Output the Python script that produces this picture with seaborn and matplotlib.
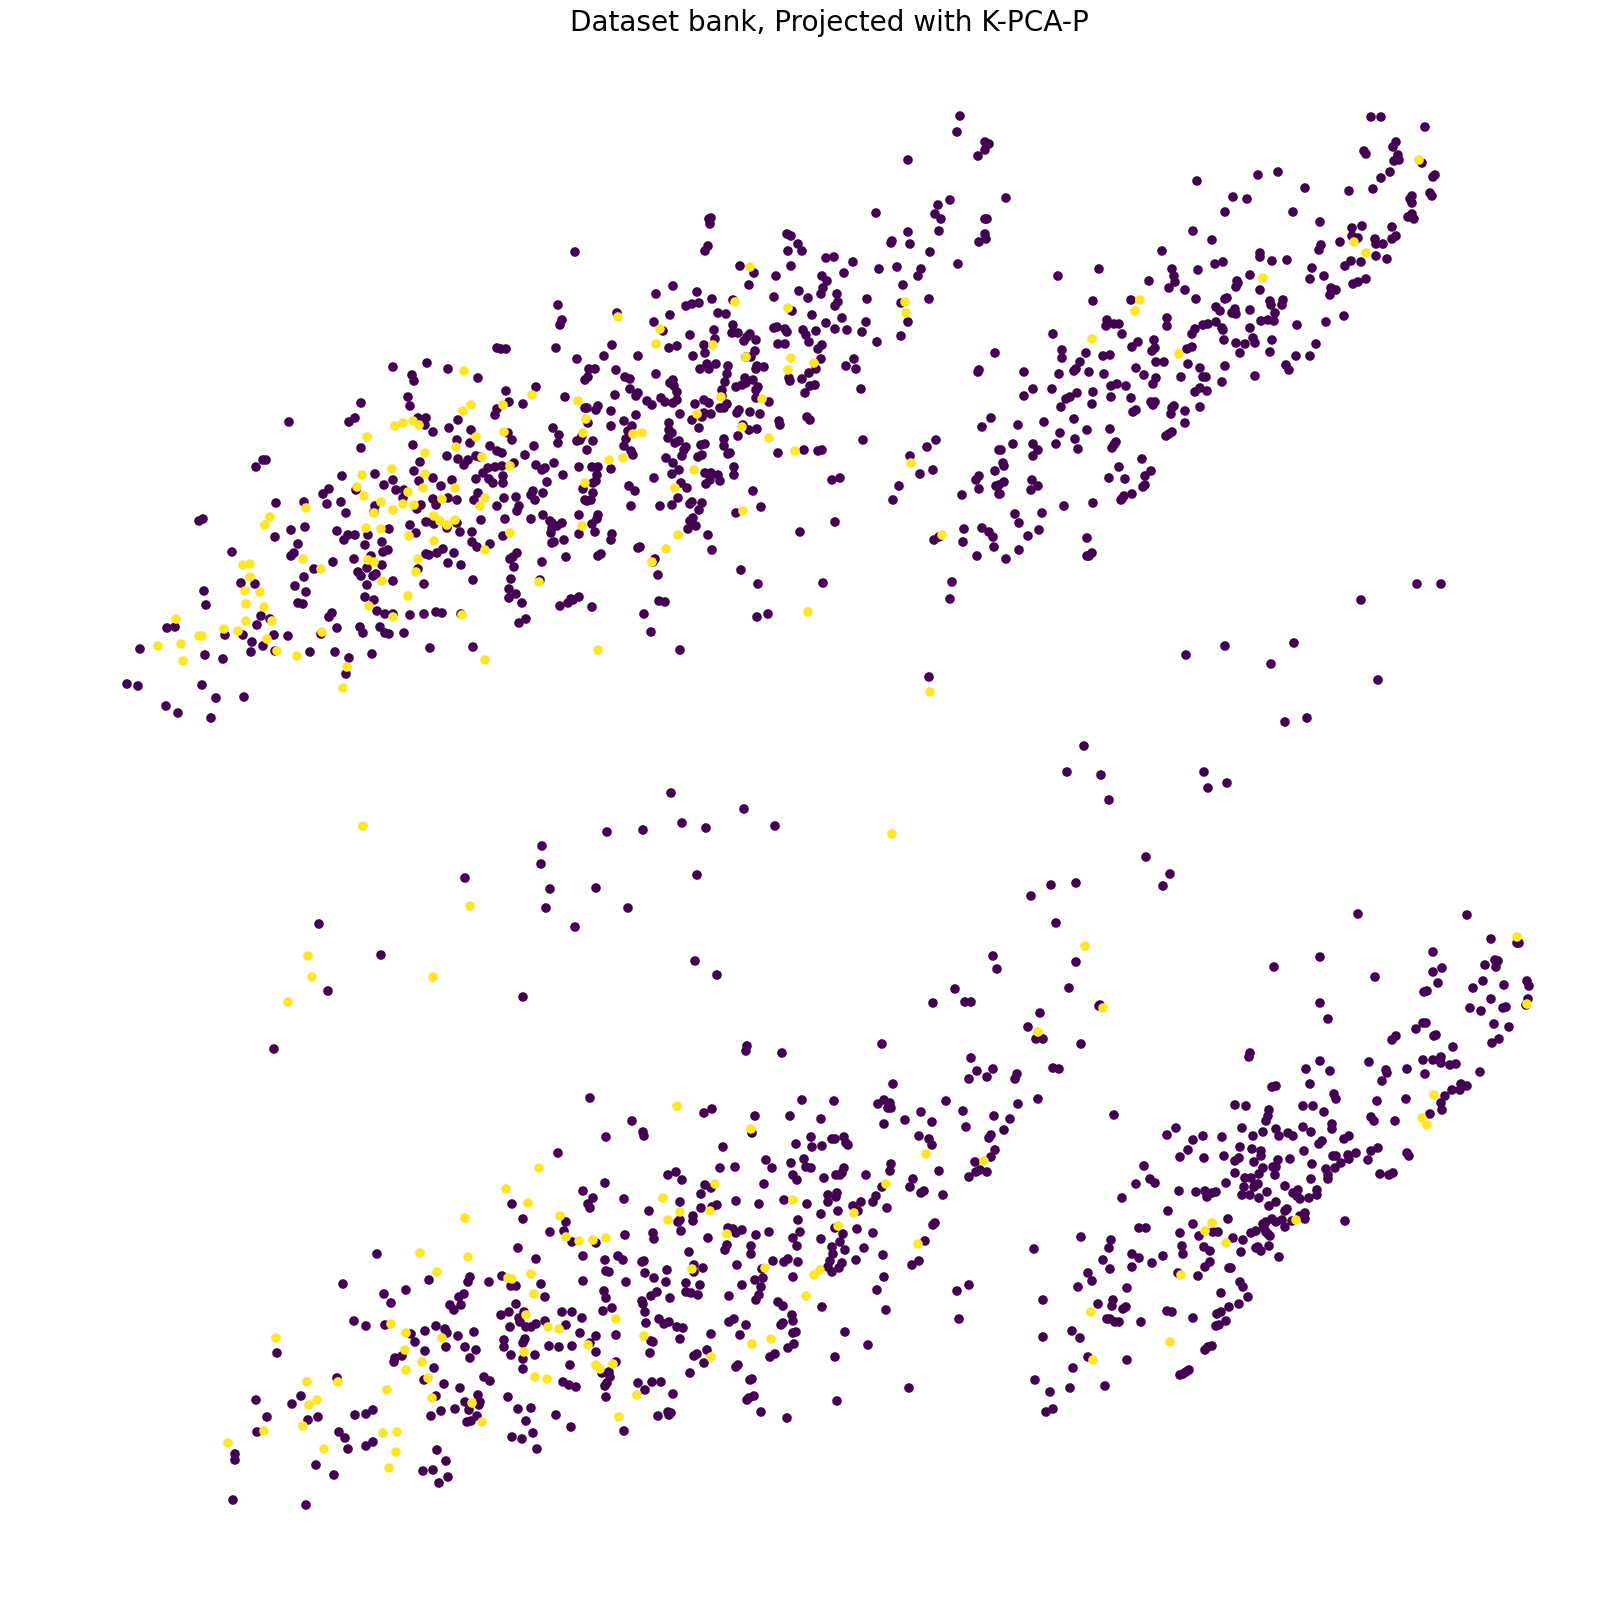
import pandas as pd
import matplotlib
matplotlib.use('Agg')
import matplotlib.pyplot as plt
import seaborn as sns

# values, grouped by cluster and label
upper_left_dark = [(497,348),(393,367),(427,363),(448,369),(478,378),(412,375),(414,381),(408,397),(410,406),(361,403),(355,418),(349,422),(289,422),(418,418),(426,418),(425,425),(433,432),(458,420),(449,428),(471,430),(457,440),(470,443),(495,415),(497,409),(413,445),(361,448),(490,446),(497,451),(447,456),(458,459),(476,456),(480,457),(468,460),(464,465),(420,462),(256,467),(263,460),(266,460),(414,471),(342,476),(375,474),(393,480),(419,481),(433,478),(452,480),(441,486),(384,485),(396,490),(404,490),(403,498),(356,490),(329,489),(323,494),(327,504),(341,502),(304,502),(276,503),(346,513),(375,506),(374,512),(417,509),(421,505),(433,499),(436,505),(448,498),(457,500),(474,500),(478,493),(476,479),(483,473),(489,479),(493,483),(488,468),(495,467),(497,506),(203,519),(199,521),(426,522),(432,522),(434,524),(410,525),(457,523),(447,528),(481,520),(389,529),(416,533),(460,532),(472,532),(305,527),(291,530),(275,537),(337,531),(348,535),(355,535),(344,540),(368,535),(365,545),(382,542),(298,544),(472,542),(477,547),(490,544),(443,549),(437,553),(429,555),(426,554),(454,553),(383,552),(388,550),(232,552),(294,553),(291,556),(371,556),(354,559),(333,562),(448,563),(461,565),(382,565),(314,569),(367,568),(358,572),(361,576),(376,574),(373,576),(418,569),(304,577),(393,581),(424,584),(473,580),(241,583),(255,584),(295,586),(367,585),(204,591),(306,592),(365,597),(374,600),(206,605),(298,603),(303,604),(377,611),(385,614),(393,614),(410,615),(424,614),(436,612),(442,613),(461,614),(332,613),(329,617),(261,616),(270,619),(257,625),(167,628),(175,627),(337,628),(360,627),(363,633),(380,627),(385,633),(389,634),(404,633),(225,635),(243,635),(274,635),(288,636),(321,634),(252,642),(263,646),(140,649),(430,648),(473,647),(251,652),(275,651),(310,652),(335,652),(372,654),(205,655),(223,659),(349,658),(346,674),(127,684),(138,686),(202,685),(216,698),(244,697),(166,706),(178,713),(211,718)]
upper_left_yellow = [(464,371),(471,405),(463,411),(403,423),(395,426),(413,421),(419,425),(367,437),(476,437),(456,447),(425,453),(482,457),(392,469),(362,475),(425,474),(357,487),(364,496),(423,488),(455,488),(408,492),(485,498),(381,502),(403,504),(414,505),(442,499),(480,506),(306,508),(393,510),(270,517),(374,513),(434,516),(440,521),(455,520),(447,525),(265,525),(366,528),(381,529),(409,536),(434,541),(485,550),(250,564),(243,565),(303,559),(418,559),(368,560),(374,562),(321,569),(416,572),(250,577),(382,581),(245,591),(260,592),(408,596),(246,604),(264,607),(369,606),(176,619),(246,621),(272,621),(393,617),(462,615),(224,629),(238,631),(322,632),(199,636),(202,636),(181,644),(158,646),(267,639),(277,651),(297,656),(183,661),(485,660),(347,667),(343,688)]

upper_mid_dark = [(960,116),(957,132),(985,142),(989,144),(985,150),(978,156),(908,160),(876,213),(950,200),(938,205),(935,214),(941,219),(985,219),(987,219),(939,231),(985,234),(986,239),(979,242),(891,243),(892,241),(908,232),(910,244),(930,252),(958,264),(711,218),(709,219),(710,224),(708,246),(705,251),(575,252),(787,234),(791,236),(798,244),(788,251),(802,251),(826,258),(834,257),(853,262),(791,266),(740,266),(754,273),(776,276),(879,269),(897,267),(921,269),(918,276),(844,273),(822,276),(827,281),(823,288),(821,294),(749,285),(903,285),(673,286),(656,294),(697,292),(799,291),(837,294),(774,297),(808,298),(929,299),(867,299),(838,302),(835,306),(712,299),(733,300),(558,305),(686,306),(692,304),(699,303),(901,303),(792,311),(812,315),(617,313),(670,315),(718,313),(726,314),(842,318),(908,322),(826,323),(866,322),(562,320),(560,325),(654,322),(733,325),(714,330),(774,328),(777,327),(785,329),(787,332),(835,329),(847,330),(862,332),(803,330),(806,335),(816,331),(663,331),(690,335),(732,333),(738,333),(750,334),(747,337),(744,341),(756,340),(715,339),(901,336),(877,342),(809,342),(778,344),(785,344),(822,345),(818,349),(612,345),(704,345),(669,348),(677,346),(506,349),(501,349),(556,348),(705,353),(755,351),(693,356),(638,356),(604,356),(746,357),(751,357),(854,359),(821,359),(577,359),(995,353),(707,364),(716,364),(728,366),(757,366),(764,367),(700,369),(709,369),(756,369),(846,366),(856,369),(816,369),(979,370),(978,372),(589,369),(595,369),(616,370),(727,374),(809,373),(656,374),(625,377),(630,379),(588,377),(585,380),(789,378),(790,381),(802,379),(745,378),(673,380),(670,383),(725,382),(753,380),(746,383),(674,386),(810,386),(815,385),(742,385),(736,387),(758,387),(756,390),(536,387),(506,391),(630,389),(722,390),(861,389),(805,393),(677,392),(615,395),(638,393),(636,396),(565,397),(722,396),(661,398),(756,398),(647,401),(677,400),(665,402),(673,403),(704,400),(709,403),(695,404),(727,404),(769,402),(509,402),(523,404),(652,405),(598,406),(724,408),(720,408),(587,408),(585,408),(596,410),(611,411),(739,410),(737,413),(750,412),(760,414),(680,414),(636,415),(704,413),(711,414),(702,417),(807,417),(810,420),(991,418),(982,427),(779,421),(780,425),(588,423),(624,421),(692,420),(669,423),(611,426),(632,426),(743,425),(757,429),(749,430),(699,428),(553,428),(669,430),(628,431),(559,435),(672,433),(738,436),(508,433),(582,436),(668,438),(512,440),(626,439),(724,439),(580,440),(577,441),(593,441),(558,443),(863,440),(679,441),(675,443),(936,440),(624,446),(701,445),(705,444),(724,446),(686,447),(534,446),(927,447),(684,450),(587,450),(804,450),(818,451),(822,450),(631,451),(633,455),(728,454),(730,453),(778,453),(502,453),(525,455),(702,455),(698,457),(682,456),(666,458),(910,456),(999,450),(514,463),(554,463),(536,465),(673,463),(545,468),(542,470),(579,467),(592,467),(598,467),(502,466),(611,469),(933,470),(734,467),(679,470),(995,471),(672,474),(563,475),(597,475),(705,473),(711,473),(718,475),(734,475),(920,474),(979,476),(976,480),(832,480),(840,478),(654,478),(503,476),(503,483),(547,482),(593,483),(596,481),(710,480),(720,481),(706,484),(681,483),(899,486),(996,486),(999,485),(583,489),(629,486),(687,488),(635,491),(979,489),(533,491),(543,493),(593,493),(753,491),(531,495),(504,498),(516,497),(962,495),(999,494),(678,498),(535,500),(591,500),(585,500),(587,501),(893,500),(692,502),(690,504),(702,503),(519,506),(631,506),(660,506),(672,505),(761,507),(699,510),(517,511),(736,513),(579,515),(543,515),(598,515),(505,519),(531,519),(597,519),(550,521),(552,523),(693,518),(690,521),(835,522),(592,524),(562,523),(557,526),(696,526),(552,528),(688,529),(964,529),(982,528),(989,532),(595,532),(800,532),(551,533),(579,534),(612,534),(708,535),(503,536),(993,537),(939,537),(934,540),(611,540),(564,540),(963,542),(554,542),(552,543),(994,547),(640,547),(638,548),(712,550),(517,553),(601,554),(598,556),(566,557),(513,557),(510,559),(977,556),(655,559),(653,562),(542,562),(514,567),(741,570),(658,575),(511,579),(540,580),(758,584),(823,583),(952,582),(509,589),(516,594),(579,597),(509,598),(573,600),(571,599),(568,603),(560,606),(950,599),(659,601),(665,602),(522,603),(592,607),(644,614),(768,614),(757,617),(526,619),(519,623),(651,632),(680,650),(929,677)]
upper_mid_yellow = [(750,267),(735,302),(788,308),(905,302),(906,313),(618,317),(660,329),(656,344),(713,345),(791,358),(746,357),(814,363),(788,370),(532,395),(578,401),(721,397),(762,399),(503,405),(586,419),(697,414),(504,432),(583,433),(742,427),(633,434),(642,433),(769,438),(795,451),(609,460),(623,458),(510,466),(694,470),(585,483),(675,488),(911,463),(743,511),(582,526),(510,533),(942,535),(678,535),(666,549),(652,562),(539,582),(808,612),(598,650),(930,692)]

upper_right_dark = [(1006,198),(1197,181),(1258,175),(1278,172),(1371,117),(1381,117),(1425,127),(1396,142),(1393,147),(1364,151),(1366,154),(1398,155),(1399,160),(1394,161),(1422,163),(1390,172),(1381,178),(1435,175),(1433,177),(1373,189),(1349,191),(1305,188),(1233,197),(1247,199),(1430,193),(1432,196),(1412,196),(1410,199),(1412,203),(1225,212),(1293,212),(1412,214),(1408,217),(1414,219),(1320,222),(1362,226),(1352,228),(1392,227),(1193,231),(1396,236),(1392,239),(1352,236),(1358,238),(1355,240),(1375,239),(1376,244),(1383,244),(1212,240),(1340,242),(1321,245),(1319,250),(1162,251),(1260,253),(1260,257),(1376,256),(1387,259),(1272,261),(1287,260),(1223,262),(1215,264),(1351,261),(1361,262),(1345,266),(1312,268),(1099,269),(1172,269),(1198,270),(1058,276),(1174,276),(1250,275),(1324,276),(1310,279),(1366,279),(1237,281),(1149,281),(1175,282),(1238,283),(1358,282),(1353,284),(1169,288),(1236,287),(1185,290),(1260,290),(1331,288),(1336,290),(1330,295),(1196,299),(1227,298),(1225,299),(1093,301),(1131,300),(1270,301),(1283,300),(1271,305),(1282,305),(1216,307),(1220,311),(1235,309),(1250,310),(1232,313),(1236,314),(1275,313),(1344,316),(1167,318),(1107,320),(1114,324),(1119,324),(1106,326),(1167,326),(1216,322),(1208,324),(1203,325),(1261,321),(1268,320),(1274,321),(1326,322),(1297,325),(1195,329),(1222,328),(1223,330),(1250,328),(1053,334),(1122,334),(1192,334),(1154,340),(1224,340),(1253,338),(1272,340),(1138,342),(1132,347),(1255,343),(1236,343),(1245,344),(1316,344),(1192,347),(1187,349),(1155,348),(1152,351),(1062,350),(1086,353),(1270,352),(1240,353),(1103,356),(1110,355),(1062,358),(1296,356),(1310,356),(1080,362),(1156,362),(1164,362),(1188,364),(1225,366),(1200,368),(1286,365),(1136,368),(1289,370),(1076,369),(1074,371),(1024,372),(1059,374),(1089,372),(1104,374),(1144,375),(1255,376),(1156,378),(1181,377),(1203,377),(1206,377),(1222,382),(1153,384),(1117,384),(1111,386),(1126,386),(1033,389),(1052,389),(1200,388),(1207,391),(1195,392),(1077,393),(1093,392),(1024,396),(1111,397),(1070,397),(1066,399),(1131,398),(1151,402),(1155,402),(1153,405),(1092,404),(1061,407),(1174,406),(1172,408),(1200,407),(1136,410),(1133,412),(1185,411),(1171,414),(1074,419),(1044,422),(1018,425),(1185,423),(1060,433),(1087,430),(1110,429),(1172,432),(1169,434),(1166,436),(1075,439),(1013,444),(1033,444),(1056,444),(1116,442),(1114,445),(1112,448),(1001,450),(1038,450),(1078,449),(1033,456),(1142,459),(1003,463),(1004,466),(1119,467),(1151,471),(1145,476),(1109,478),(1125,479),(1032,480),(1004,482),(1145,485),(1143,487),(1038,486),(1031,490),(1000,494),(1132,494),(1124,496),(1122,499),(1121,500),(1093,503),(1064,506),(1042,513),(1015,514),(1019,523),(1039,530),(1028,536),(1087,538),(1019,550),(1006,559),(1092,553),(1087,556),(1089,556)]
upper_right_yellow = [(1419,160),(1354,242),(1366,253),(1263,278),(1140,300),(1135,311),(1092,339),(1179,354)]

middle_dark = [(1417,584),(1441,584),(1361,600),(1294,643),(1225,646),(1186,655),(1271,664),(1378,680),(1285,722),(1307,718),(1084,746),(1067,772),(1101,775),(1109,800),(1204,772),(1208,788),(1227,783),(1146,857),(1170,874),(1163,886),(1031,896),(1051,885),(1076,883),(607,832),(643,830),(542,846),(541,864),(465,878),(550,889),(596,888),(546,908),(628,908),(575,927),(319,924),(381,955),(328,991),(523,997),(274,1049),(590,1098),(671,793),(682,823),(706,828),(744,809),(775,826),(697,875),(695,961),(717,975),(993,956),(997,969),(955,989),(933,1003),(965,1002),(971,1002)]
middle_yellow = [(363,826),(470,906),(308,956),(312,977),(433,977),(288,1002),(892,834)]

lower_left_dark = [(632,1121),(606,1137),(558,1153),(605,1183),(583,1191),(593,1198),(624,1199),(512,1204),(588,1204),(590,1208),(523,1219),(566,1222),(564,1231),(550,1232),(625,1235),(572,1242),(596,1243),(518,1248),(583,1256),(536,1259),(618,1256),(623,1260),(605,1260),(377,1254),(606,1271),(609,1272),(583,1281),(626,1282),(429,1280),(470,1277),(468,1282),(502,1276),(489,1282),(511,1286),(516,1286),(541,1284),(343,1284),(406,1290),(384,1294),(545,1297),(604,1291),(606,1298),(391,1303),(464,1294),(459,1297),(461,1305),(450,1305),(454,1310),(516,1304),(524,1312),(612,1308),(603,1311),(509,1312),(501,1315),(562,1312),(572,1312),(582,1318),(519,1318),(520,1322),(354,1321),(366,1326),(385,1325),(545,1321),(536,1324),(531,1327),(526,1327),(510,1327),(566,1325),(436,1326),(445,1329),(447,1333),(425,1331),(411,1334),(474,1332),(580,1333),(458,1336),(596,1336),(616,1335),(415,1342),(504,1340),(525,1339),(523,1343),(590,1343),(549,1346),(559,1347),(572,1346),(446,1347),(465,1347),(504,1347),(476,1350),(425,1351),(596,1352),(277,1353),(402,1356),(395,1358),(394,1362),(511,1355),(535,1355),(523,1359),(470,1358),(616,1362),(570,1365),(434,1368),(523,1369),(602,1373),(609,1372),(610,1377),(484,1377),(490,1381),(337,1378),(424,1380),(444,1384),(563,1382),(569,1385),(576,1387),(607,1383),(605,1386),(638,1383),(460,1388),(478,1395),(301,1396),(436,1396),(508,1397),(606,1397),(256,1400),(292,1404),(465,1402),(480,1402),(479,1405),(518,1409),(531,1408),(373,1410),(455,1409),(469,1410),(441,1411),(267,1417),(366,1414),(355,1415),(318,1417),(431,1416),(477,1416),(556,1415),(308,1420),(471,1421),(467,1422),(526,1421),(571,1427),(257,1432),(339,1432),(533,1433),(624,1431),(345,1438),(512,1437),(522,1439),(373,1442),(366,1446),(348,1449),(537,1449),(437,1450),(235,1454),(235,1460),(446,1461),(316,1465),(433,1470),(423,1471),(334,1475),(448,1477),(439,1483),(233,1500),(306,1505)]
lower_left_yellow = [(539,1168),(506,1189),(528,1203),(465,1218),(560,1216),(566,1237),(579,1241),(593,1240),(606,1238),(420,1253),(468,1257),(437,1272),(531,1274),(508,1278),(512,1279),(534,1294),(526,1315),(616,1319),(391,1324),(548,1327),(559,1329),(406,1333),(442,1338),(276,1338),(588,1345),(405,1350),(524,1352),(422,1362),(596,1365),(613,1364),(600,1369),(406,1370),(535,1377),(547,1379),(428,1378),(307,1382),(338,1382),(387,1390),(317,1400),(637,1395),(432,1398),(309,1405),(472,1403),(482,1422),(303,1426),(264,1431),(397,1432),(383,1433),(228,1443),(324,1449),(396,1452),(389,1468),(619,1417)]

lower_mid_dark = [(882,1044),(782,1053),(747,1046),(746,1051),(1028,1027),(971,1058),(977,1071),(993,1069),(987,1077),(969,1079),(1017,1074),(1015,1079),(893,1084),(946,1101),(963,1111),(1018,1104),(802,1100),(834,1101),(878,1104),(884,1100),(890,1103),(888,1108),(891,1108),(921,1112),(905,1120),(932,1122),(994,1116),(1010,1119),(821,1119),(790,1116),(755,1116),(884,1124),(712,1109),(704,1113),(966,1127),(1004,1130),(752,1133),(643,1132),(644,1136),(919,1136),(929,1139),(932,1145),(991,1135),(989,1138),(811,1137),(812,1147),(832,1139),(835,1139),(844,1137),(846,1143),(848,1145),(796,1144),(822,1146),(723,1147),(995,1150),(991,1157),(766,1160),(804,1159),(791,1163),(806,1167),(811,1168),(975,1162),(891,1164),(735,1167),(720,1168),(772,1168),(844,1168),(890,1171),(939,1171),(980,1170),(976,1172),(987,1172),(969,1177),(676,1172),(668,1175),(793,1175),(682,1180),(797,1180),(824,1178),(842,1173),(836,1175),(840,1175),(866,1175),(913,1179),(764,1184),(705,1185),(711,1188),(910,1187),(882,1187),(924,1191),(921,1193),(943,1195),(701,1194),(876,1196),(837,1193),(828,1195),(836,1197),(828,1202),(861,1202),(873,1202),(680,1202),(736,1201),(717,1205),(712,1207),(759,1204),(784,1200),(807,1204),(853,1206),(701,1208),(649,1211),(887,1208),(856,1211),(858,1211),(838,1211),(821,1214),(693,1216),(680,1220),(693,1221),(678,1222),(798,1220),(933,1225),(935,1223),(835,1228),(857,1229),(728,1228),(733,1229),(742,1230),(736,1233),(681,1231),(653,1233),(769,1232),(800,1232),(843,1234),(873,1233),(756,1235),(708,1238),(654,1239),(793,1238),(821,1239),(925,1241),(840,1242),(727,1245),(751,1246),(797,1246),(725,1250),(832,1247),(864,1248),(845,1250),(689,1252),(751,1254),(833,1254),(883,1255),(856,1260),(773,1261),(788,1259),(784,1262),(798,1262),(830,1261),(919,1261),(644,1261),(642,1262),(842,1263),(694,1265),(703,1268),(737,1265),(667,1270),(912,1265),(839,1268),(828,1267),(762,1269),(694,1272),(645,1273),(832,1272),(884,1277),(654,1278),(763,1278),(793,1277),(755,1280),(666,1282),(686,1283),(742,1285),(700,1285),(969,1285),(761,1287),(957,1291),(877,1290),(657,1292),(686,1292),(691,1293),(698,1295),(651,1296),(729,1296),(670,1298),(759,1295),(756,1300),(642,1301),(778,1302),(783,1306),(643,1304),(822,1307),(886,1310),(645,1312),(792,1315),(793,1321),(959,1319),(659,1319),(734,1319),(729,1322),(646,1323),(669,1322),(664,1324),(746,1325),(783,1323),(781,1325),(677,1327),(683,1328),(845,1332),(796,1332),(793,1333),(711,1334),(740,1335),(680,1339),(651,1341),(653,1342),(794,1344),(868,1345),(788,1348),(707,1350),(650,1353),(697,1354),(694,1356),(775,1354),(770,1357),(835,1357),(704,1363),(738,1365),(736,1367),(690,1373),(752,1379),(750,1380),(652,1382),(661,1382),(909,1388),(645,1390),(673,1394),(754,1396),(749,1398),(747,1400),(837,1401),(668,1412),(671,1413),(669,1415),(761,1412),(658,1416),(787,1418)]
lower_mid_yellow = [(677,1106),(751,1129),(926,1154),(984,1161),(886,1184),(715,1184),(663,1198),(793,1200),(680,1212),(710,1211),(668,1220),(854,1213),(838,1226),(727,1234),(918,1244),(765,1268),(692,1269),(820,1270),(814,1275),(806,1296),(644,1336),(752,1344),(771,1339),(711,1357)]

lower_right_dark = [(1358,914),(1467,915),(1056,923),(1491,939),(1517,943),(1519,943),(1433,952),(1320,957),(1495,960),(1498,961),(1485,965),(1496,967),(1076,962),(1274,967),(1442,968),(1433,972),(1375,977),(1527,981),(1529,986),(1483,981),(1504,985),(1438,983),(1473,988),(1069,988),(1424,992),(1427,991),(1491,999),(1528,999),(1526,1005),(1320,1003),(1470,1008),(1481,1011),(1506,1007),(1503,1008),(1099,1006),(1100,1005),(1040,1013),(1328,1019),(1494,1024),(1509,1027),(1423,1023),(1426,1023),(1416,1029),(1396,1036),(1392,1040),(1434,1036),(1436,1035),(1499,1039),(1492,1043),(1036,1039),(1043,1039),(1081,1044),(1453,1047),(1250,1053),(1249,1057),(1320,1061),(1369,1062),(1423,1060),(1433,1060),(1441,1057),(1441,1063),(1456,1064),(1450,1065),(1407,1069),(1386,1070),(1387,1073),(1306,1069),(1330,1071),(1053,1068),(1059,1069),(1480,1072),(1425,1074),(1382,1081),(1310,1084),(1276,1086),(1272,1087),(1461,1084),(1467,1086),(1452,1090),(1460,1090),(1445,1096),(1334,1094),(1336,1099),(1038,1099),(1377,1101),(1406,1099),(1441,1103),(1235,1105),(1246,1106),(1303,1106),(1313,1106),(1442,1110),(1269,1110),(1324,1112),(1430,1114),(1114,1115),(1371,1117),(1374,1121),(1268,1116),(1266,1121),(1395,1121),(1332,1124),(1332,1129),(1242,1128),(1276,1129),(1303,1127),(1311,1132),(1176,1128),(1263,1132),(1288,1133),(1293,1136),(1253,1136),(1279,1136),(1167,1135),(1203,1136),(1222,1137),(1349,1136),(1344,1139),(1193,1140),(1322,1141),(1319,1144),(1240,1147),(1188,1150),(1252,1149),(1261,1151),(1261,1156),(1304,1151),(1378,1148),(1371,1151),(1407,1153),(1409,1156),(1180,1157),(1204,1158),(1224,1156),(1239,1158),(1235,1161),(1254,1162),(1278,1160),(1290,1159),(1336,1156),(1333,1156),(1348,1155),(1356,1153),(1349,1159),(1368,1160),(1312,1164),(1341,1163),(1144,1166),(1263,1168),(1276,1167),(1273,1167),(1335,1168),(1326,1169),(1235,1173),(1259,1174),(1275,1175),(1380,1174),(1389,1175),(1393,1173),(1328,1175),(1328,1179),(1245,1178),(1251,1178),(1150,1179),(1311,1179),(1155,1183),(1136,1184),(1226,1183),(1258,1184),(1255,1185),(1285,1186),(1244,1187),(1254,1187),(1179,1191),(1196,1192),(1205,1191),(1216,1192),(1212,1193),(1207,1197),(1267,1192),(1298,1190),(1317,1190),(1293,1193),(1242,1195),(1250,1195),(1317,1195),(1297,1196),(1259,1198),(1300,1199),(1309,1198),(1122,1198),(1276,1202),(1269,1206),(1287,1209),(1285,1211),(1168,1211),(1305,1213),(1300,1216),(1228,1219),(1272,1219),(1282,1220),(1276,1222),(1266,1222),(1263,1224),(1305,1219),(1292,1221),(1345,1221),(1193,1224),(1285,1227),(1139,1228),(1146,1228),(1264,1228),(1256,1231),(1251,1233),(1266,1232),(1268,1234),(1213,1232),(1218,1232),(1180,1233),(1199,1236),(1270,1236),(1233,1238),(1081,1237),(1111,1240),(1243,1240),(1182,1246),(1269,1246),(1109,1248),(1204,1247),(1258,1247),(1034,1249),(1210,1251),(1261,1251),(1256,1248),(1241,1252),(1183,1254),(1132,1254),(1139,1258),(1163,1256),(1279,1257),(1103,1260),(1152,1263),(1210,1262),(1205,1267),(1132,1267),(1110,1269),(1229,1268),(1231,1268),(1088,1273),(1178,1273),(1198,1276),(1092,1281),(1240,1282),(1243,1287),(1078,1287),(1127,1288),(1221,1293),(1248,1297),(1043,1300),(1113,1300),(1239,1304),(1098,1304),(1112,1306),(1229,1307),(1126,1307),(1123,1309),(1167,1311),(1172,1312),(1221,1312),(1217,1314),(1193,1318),(1107,1319),(1110,1319),(1115,1322),(1119,1322),(1141,1322),(1226,1321),(1219,1325),(1216,1326),(1072,1331),(1080,1338),(1043,1337),(1212,1346),(1208,1347),(1205,1350),(1088,1357),(1127,1360),(1073,1368),(1189,1370),(1186,1372),(1183,1374),(1180,1375),(1035,1380),(1070,1388),(1105,1386),(1050,1392),(1053,1409),(1046,1412)]
lower_right_yellow = [(1517,937),(1085,946),(1103,1008),(1527,1004),(1038,1032),(1434,1095),(1422,1118),(1427,1125),(1212,1223),(1205,1231),(1296,1220),(1226,1243),(1181,1275),(1091,1312),(1170,1342),(1093,1360)]

title = 'Dataset bank, Projected with K-PCA-P'

dark = upper_left_dark + upper_mid_dark + upper_right_dark + middle_dark + lower_left_dark + lower_mid_dark + lower_right_dark
yellow = upper_left_yellow + upper_mid_yellow + upper_right_yellow + middle_yellow + lower_left_yellow + lower_mid_yellow + lower_right_yellow

df = pd.DataFrame(dark + yellow, columns=['x', 'y'])
df['label'] = [0] * len(dark) + [1] * len(yellow)

fig = plt.figure(figsize=(16.16, 16.14), dpi=100)
ax = fig.add_axes([0, 0, 1, 1])
sns.scatterplot(data=df, x='x', y='y', hue='label', palette={0: '#440154', 1: '#fde725'},
                s=48, linewidth=0, legend=False, ax=ax)
ax.set_xlim(0, 1616)
ax.set_ylim(1614, 0)
ax.set_axis_off()
fig.text(0.5135, 0.9858, title, ha='center', va='center', fontsize=20.2, color='black')

fig.savefig('out.png', dpi=100)
